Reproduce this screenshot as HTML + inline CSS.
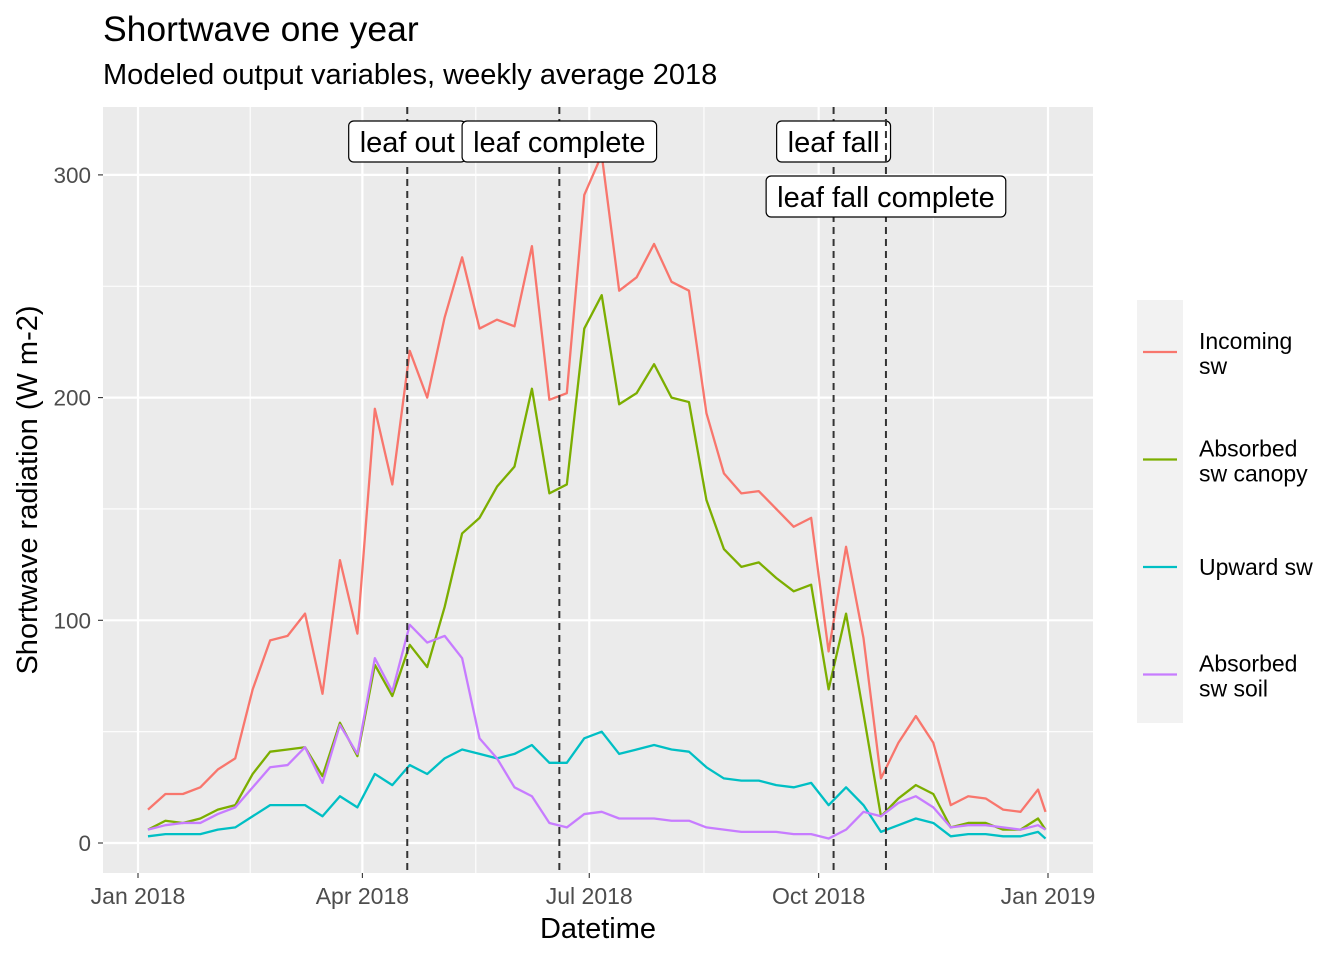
<!DOCTYPE html>
<html><head><meta charset="utf-8"><style>
body{margin:0;background:#fff;font-family:"Liberation Sans",sans-serif}
</style></head><body>
<svg id="chart" width="1344" height="960" xmlns="http://www.w3.org/2000/svg" font-family="Liberation Sans, sans-serif">
<text x="103" y="41" font-size="35.5">Shortwave one year</text>
<text x="103" y="84" font-size="29">Modeled output variables, weekly average 2018</text>
<rect x="103" y="107" width="990" height="766" fill="#ebebeb"/>
<g id="grid"></g><g id="series"></g><g id="events"></g><g id="axes"></g>
<text x="598" y="938" font-size="29" text-anchor="middle">Datetime</text>
<text transform="translate(37,490) rotate(-90)" font-size="29" text-anchor="middle">Shortwave radiation (W m-2)</text>
<g>
<rect x="1137" y="300" width="46" height="423" fill="#f2f2f2"/>
<g id="legend"></g>
</g>
</svg>
<script>
const days=[];for(let i=0;i<52;i++)days.push(4+7*i);days.push(364);
const incoming=[15,22,22,25,33,38,69,91,93,103,67,127,94,195,161,221,200,236,263,231,235,232,268,199,202,291,309,248,254,269,252,248,193,166,157,158,150,142,146,86,133,92,29,45,57,45,17,21,20,15,14,24,14];
const canopy=[6,10,9,11,15,17,31,41,42,43,30,54,39,80,66,89,79,106,139,146,160,169,204,157,161,231,246,197,202,215,200,198,154,132,124,126,119,113,116,69,103,58,12,20,26,22,7,9,9,6,6,11,6];
const upward=[3,4,4,4,6,7,12,17,17,17,12,21,16,31,26,35,31,38,42,40,38,40,44,36,36,47,50,40,42,44,42,41,34,29,28,28,26,25,27,17,25,17,5,8,11,9,3,4,4,3,3,5,2];
const soil=[6,8,9,9,13,16,25,34,35,43,27,53,40,83,68,98,90,93,83,47,38,25,21,9,7,13,14,11,11,11,10,10,7,6,5,5,5,4,4,2,6,14,12,18,21,16,7,8,8,7,6,8,6];
const seriesNames=["Incoming sw","Absorbed sw canopy","Upward sw","Absorbed sw soil"];
const seriesColors=["#f8766d","#7cae00","#00bfc4","#c77cff"];
const yTicks=[0,100,200,300];
const xTickDays=[0,90,181,273,365];
const xTickLabels=["Jan 2018","Apr 2018","Jul 2018","Oct 2018","Jan 2019"];
const eventDays=[108,169,279,300];
const eventLabels=["leaf out","leaf complete","leaf fall","leaf fall complete"];
const NS="http://www.w3.org/2000/svg";
const X=d=>138+d*910/365, Y=v=>843-v*2.227;
function mk(p,tag,a){const e=document.createElementNS(NS,tag);for(const k in a)e.setAttribute(k,a[k]);document.getElementById(p).appendChild(e);return e;}
yTicks.forEach((v,i)=>{const l=mk('grid','line',{x1:103,x2:1093,y1:Y(v),y2:Y(v),stroke:'#fff','stroke-width':2.2});

if(i<yTicks.length-1){const m=mk('grid','line',{x1:103,x2:1093,y1:Y(v+50),y2:Y(v+50),stroke:'#fff','stroke-width':1.1});
}
const t=mk('axes','text',{x:91,y:Y(v)+8,'font-size':22.5,fill:'#4d4d4d','text-anchor':'end'});t.textContent=v;

mk('axes','line',{x1:98,x2:103,y1:Y(v),y2:Y(v),stroke:'#333','stroke-width':1.1});});
xTickDays.forEach((d,i)=>{const l=mk('grid','line',{x1:X(d),x2:X(d),y1:107,y2:873,stroke:'#fff','stroke-width':2.2});

if(i<xTickDays.length-1){const m=mk('grid','line',{x1:X((d+xTickDays[i+1])/2),x2:X((d+xTickDays[i+1])/2),y1:107,y2:873,stroke:'#fff','stroke-width':1.1});
}
const t=mk('axes','text',{x:X(d),y:904,'font-size':23,fill:'#4d4d4d','text-anchor':'middle'});t.textContent=xTickLabels[i];

mk('axes','line',{x1:X(d),x2:X(d),y1:873,y2:878,stroke:'#333','stroke-width':1.1});});
[incoming,canopy,upward,soil].forEach((s,k)=>{const p=mk('series','polyline',{points:s.map((v,i)=>X(days[i])+','+Y(v)).join(' '),fill:'none',stroke:seriesColors[k],'stroke-width':2.3,'stroke-linejoin':'round'});

const ly=352+k*107.5;
const g=mk('legend','line',{x1:1143,x2:1177,y1:ly,y2:ly,stroke:seriesColors[k],'stroke-width':2.3});

const w=seriesNames[k].split(' ');const l1=k==2?seriesNames[k]:w[0],l2=k==2?'':w.slice(1).join(' ');
const t=mk('legend','text',{x:1199,y:k==2?ly+8:ly-3,'font-size':23});t.textContent=l1;

if(l2){const t2=mk('legend','text',{x:1199,y:ly+22,'font-size':23});t2.textContent=l2;
}});
eventDays.forEach((d,i)=>{const x=X(d);
const l=mk('events','line',{x1:x,x2:x,y1:107,y2:873,stroke:'#333','stroke-width':2,'stroke-dasharray':'7,5'});

const y=i==3?197:142;
const r=mk('events','rect',{x:x-50,y:y-21,width:100,height:41,rx:5,fill:'#fff',stroke:'#000','stroke-width':1.2});

const t=mk('events','text',{x:x,y:y+10,'font-size':29,'text-anchor':'middle'});t.textContent=eventLabels[i];

const w=t.getComputedTextLength()+22;r.setAttribute('x',x-w/2);r.setAttribute('width',w);});
</script>
</body></html>
